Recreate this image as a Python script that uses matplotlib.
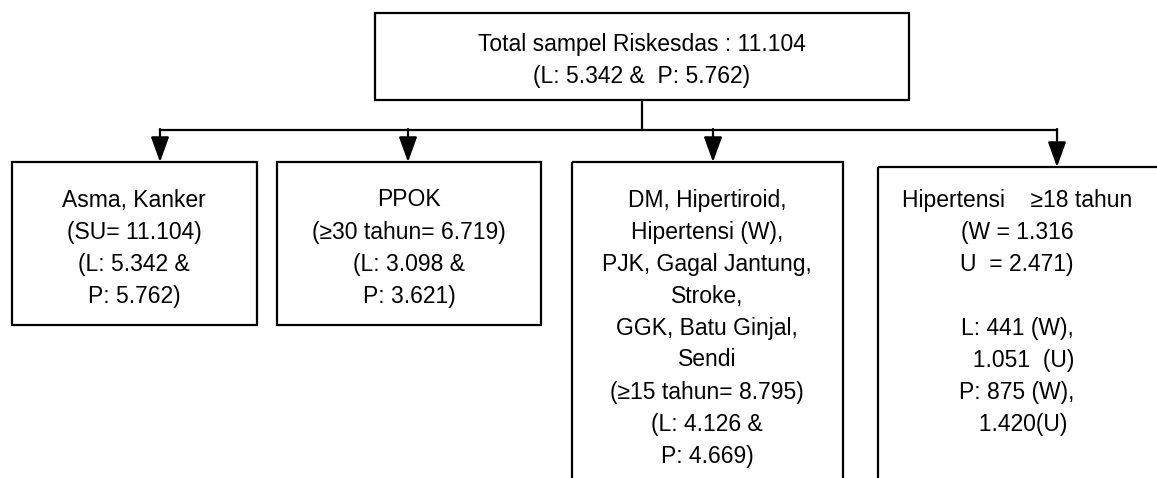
import matplotlib.pyplot as plt
from matplotlib.patches import Rectangle

plt.rcParams['font.family'] = ['Liberation Sans Narrow', 'Liberation Sans', 'DejaVu Sans']

# texts of the flow chart
top_lines = ['Total sampel Riskesdas : 11.104', '(L: 5.342 &  P: 5.762)']
box1_lines = ['Asma, Kanker', '(SU= 11.104)', '(L: 5.342 &', 'P: 5.762)']
box2_lines = ['PPOK', '(\u226530 tahun= 6.719)', '(L: 3.098 &', 'P: 3.621)']
box3_lines = ['DM, Hipertiroid,', 'Hipertensi (W),', 'PJK, Gagal Jantung,', 'Stroke,',
              'GGK, Batu Ginjal,', 'Sendi', '(\u226515 tahun= 8.795)', '(L: 4.126 &', 'P: 4.669)']
box4_lines = ['Hipertensi    \u226518 tahun', '(W = 1.316', 'U  = 2.471)', '',
              'L: 441 (W),', '  1.051  (U)', 'P: 875 (W),', '  1.420(U)']

W, H = 1157, 478
fig = plt.figure(figsize=(W / 100, H / 100), dpi=100)
ax = fig.add_axes([0, 0, 1, 1])
ax.set_xlim(0, W)
ax.set_ylim(H, 0)
ax.axis('off')

lw = 1.6
fs = 16.5
step = 32

def box(x0, y0, x1, y1):
    ax.add_patch(Rectangle((x0, y0), x1 - x0, y1 - y0, fill=False, ec='black', lw=lw, clip_on=False))

def lines(xc, y0, txt):
    for i, t in enumerate(txt):
        ax.text(xc, y0 + i * step, t, ha='center', va='center', fontsize=fs)

# top box
box(375, 13, 909, 100)
lines(642, 44, top_lines)

# connectors
ax.plot([642, 642], [100, 130], color='black', lw=lw)
ax.plot([160, 1057], [130, 130], color='black', lw=lw)
for xa, ya in [(160, 162), (408, 162), (713, 162), (1057, 167)]:
    ax.annotate('', xy=(xa, ya), xytext=(xa, 129),
                arrowprops=dict(arrowstyle='-|>,head_length=0.55,head_width=0.2', color='black',
                                lw=lw, mutation_scale=28, shrinkA=0, shrinkB=0))

# child boxes
box(12, 162, 257, 325)
lines(134, 200, box1_lines)
box(277, 162, 541, 325)
lines(409, 200, box2_lines)
box(572, 162, 843, 520)
lines(707, 200, box3_lines)
box(878, 167, 1200, 520)
lines(1017, 200, box4_lines)

fig.savefig('out.png', dpi=100)
